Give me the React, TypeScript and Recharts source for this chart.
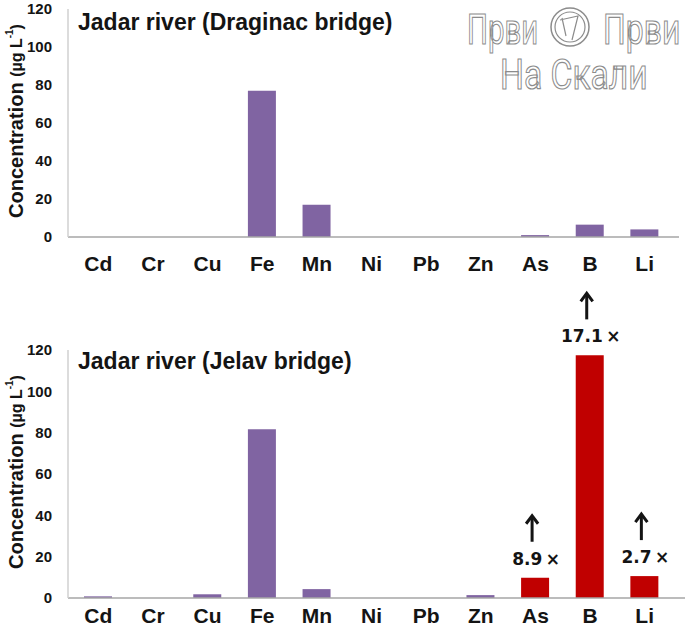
import { BarChart, Bar, XAxis, YAxis, Cell, LabelList } from 'recharts'

// Dissolved element concentrations along the Jadar river (µg/L)
const ELEMENTS = ['Cd', 'Cr', 'Cu', 'Fe', 'Mn', 'Ni', 'Pb', 'Zn', 'As', 'B', 'Li']
const DRAGINAC = [0, 0, 0, 77, 17, 0, 0, 0, 1, 6.5, 4]
const JELAV = [0.8, 0, 1.8, 81.6, 4.3, 0, 0, 1.4, 9.8, 117.4, 10.6]
// increase factor vs. upstream (only where it is marked)
const JELAV_FACTOR: (number | null)[] = [null, null, null, null, null, null, null, null, 8.9, 17.1, 2.7]
const Y_TICKS = [0, 20, 40, 60, 80, 100, 120]

const PURPLE = '#8064a2'
const RED = '#c00000'
const FONT = '"Liberation Sans", Arial, sans-serif'
const INK = '#141414'

const topData = ELEMENTS.map((el, i) => ({ el, value: DRAGINAC[i] }))
const bottomData = ELEMENTS.map((el, i) => ({ el, value: JELAV[i], factor: JELAV_FACTOR[i] }))

const xTick = { fontSize: 21, fontWeight: 700, fill: INK, fontFamily: FONT }
const yTick = { fontSize: 15, fontWeight: 700, fill: INK, fontFamily: FONT }

// rotated y axis title
function ConcLabel(props: any) {
  const vb = props.viewBox || {}
  const cx = 16
  const cy = vb.y + vb.height / 2 - 2
  return (
    <text
      transform={`translate(${cx},${cy}) rotate(-90)`}
      textAnchor="middle"
      dominantBaseline="central"
      fontFamily={FONT}
      fontWeight={700}
      fill={INK}
    >
      <tspan fontSize={20}>Concentration </tspan>
      <tspan fontSize={16}>(µg L</tspan>
      <tspan fontSize={10} dy={-7}>-1</tspan>
      <tspan fontSize={16} dy={7}>)</tspan>
    </text>
  )
}

// arrow + "n.n×" above the exceeding bars
function FactorLabel(props: any) {
  const { x, y, width, value } = props
  if (value == null) return null
  const cx = x + width / 2
  const ax = cx - 3
  return (
    <g>
      <path d={`M${ax},${y - 36} L${ax},${y - 61}`} stroke={INK} strokeWidth={3} />
      <path d={`M${ax - 6},${y - 54} L${ax},${y - 62} L${ax + 6},${y - 54}`} stroke={INK} strokeWidth={3} fill="none" />
      <text x={cx + 1} y={y - 13} textAnchor="middle" fontFamily='"DejaVu Sans", sans-serif' fontWeight={700} fontSize={17} fill={INK}>
        {`${value}\u2009×`}
      </text>
    </g>
  )
}

function Panel({ data, height, marginTop, right, axisHeight, tickMargin, exceed }: any) {
  return (
    <BarChart
      width={685}
      height={height}
      data={data}
      margin={{ top: marginTop, right, left: 0, bottom: 0 }}
      barSize={28}
    >
      <XAxis
        dataKey="el"
        height={axisHeight}
        interval={0}
        tickLine={false}
        tickSize={0}
        tickMargin={tickMargin}
        axisLine={{ stroke: '#a6a6a6', strokeWidth: 1.5 }}
        tick={xTick}
        padding={{ left: 3, right: 7 + (right === 0 ? 6 : 0) }}
      />
      <YAxis
        width={68}
        domain={[0, 120]}
        ticks={Y_TICKS}
        interval={0}
        tickLine={false}
        tickSize={0}
        tickMargin={16}
        axisLine={{ stroke: '#d0d0d0', strokeWidth: 1.5 }}
        tick={yTick}
        label={{ content: <ConcLabel /> }}
      />
      <Bar dataKey="value" isAnimationActive={false}>
        {data.map((d: any) => (
          <Cell key={d.el} fill={exceed && d.factor != null ? RED : PURPLE} />
        ))}
        {exceed && <LabelList dataKey="factor" content={<FactorLabel />} />}
      </Bar>
    </BarChart>
  )
}

export default function App() {
  return (
    <div style={{ position: 'absolute', left: 0, top: 0, width: 685, height: 634, overflow: 'hidden', background: '#fff', fontFamily: FONT }}>
      <div style={{ position: 'absolute', left: 0, top: 0 }}>
        <Panel data={topData} height={275} marginTop={9} right={6} axisHeight={38} tickMargin={19} exceed={false} />
      </div>
      <div style={{ position: 'absolute', left: 0, top: 260 }}>
        <Panel data={bottomData} height={374} marginTop={90} right={0} axisHeight={36} tickMargin={10} exceed />
      </div>
      <svg width={685} height={634} style={{ position: 'absolute', left: 0, top: 0, pointerEvents: 'none' }}>
        <text x={78} y={30} fontFamily={FONT} fontWeight={700} fontSize={23} fill={INK}>
          Jadar river (Draginac bridge)
        </text>
        <text x={78} y={369} fontFamily={FONT} fontWeight={700} fontSize={23} fill={INK}>
          Jadar river (Jelav bridge)
        </text>
        {/* watermark */}
        <g fill="#fff" stroke="#8c8c8c" strokeWidth={1.2} fontFamily="Roboto, sans-serif" fontSize={42}>
          <text transform="translate(467,44) scale(0.7,1)">Први</text>
          <text transform="translate(603,44) scale(0.76,1)">Први</text>
          <text transform="translate(500,89) scale(0.8,1)">На Скали</text>
          <circle cx={570} cy={27} r={19} strokeWidth={1.5} />
          <circle cx={570} cy={27} r={15} />
          <path d="M560,20 L578,16 L572,40 M562,18 L566,36" fill="none" />
        </g>
      </svg>
    </div>
  )
}
